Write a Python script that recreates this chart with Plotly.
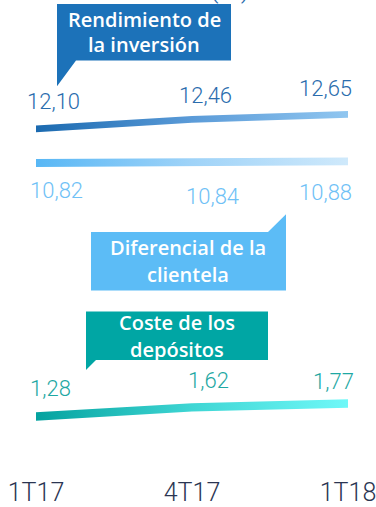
import plotly.graph_objects as go

# Quarterly periods and the three customer-spread series (%)
periods = ["1T17", "4T17", "1T18"]
rendimiento = [12.10, 12.46, 12.65]
diferencial = [10.82, 10.84, 10.88]
coste = [1.28, 1.62, 1.77]

W, H = 376, 507
MB = 28                      # bottom margin for the period labels
PH = H - MB                  # plot-area height in px

# vertical scale: px per percentage point and value at the top edge
PX_PER_UNIT = 26.8
Y_TOP = 454.3 / PX_PER_UNIT
Y_BOTTOM = Y_TOP - PH / PX_PER_UNIT


def px(x):
    return x / W


def py(y):
    return 1 - y / PH


series = [
    dict(name="Rendimiento de la inversión", values=rendimiento,
         grad=["#1b6ab0", "#5b9bd8", "#90c6f0"], text="#2a6cad",
         half=3.4, shifts=[(17, 27), (13, 24), (-23, 26)]),
    dict(name="Diferencial de la clientela", values=diferencial,
         grad=["#58b7f5", "#9fd3f8", "#cfe9fb"], text="#6fc1f6",
         half=4.0, shifts=[(20, -28), (20, -34), (-23, -31)]),
    dict(name="Coste de los depósitos", values=coste,
         grad=["#04a29f", "#3fd6d4", "#6ff8f8"], text="#1ea8a3",
         half=4.2, shifts=[(14, 28), (16, 27), (-15, 22)]),
]

fig = go.Figure()
annotations = []

for s in series:
    vals = s["values"]
    h = s["half"] / PX_PER_UNIT
    xs = periods + periods[::-1]
    ys = [v + h for v in vals] + [v - h for v in vals[::-1]]
    fig.add_trace(go.Scatter(
        x=xs, y=ys, mode="lines", fill="toself",
        line=dict(width=0), hoverinfo="skip", showlegend=False,
        fillgradient=dict(type="horizontal",
                          colorscale=[[0, s["grad"][0]], [0.5, s["grad"][1]],
                                      [1, s["grad"][2]]]),
        name=s["name"],
    ))
    for p, v, (dx, dy) in zip(periods, vals, s["shifts"]):
        annotations.append(dict(
            x=p, y=v, xref="x", yref="y", showarrow=False,
            text=f"{v:.2f}".replace(".", ","), xshift=dx, yshift=dy,
            font=dict(family="Roboto", size=22, color=s["text"], weight=300),
        ))

# callout boxes (pixel outlines converted to paper space)
callouts = [
    dict(color="#1c72b9", pts=[(57, 4), (231, 4), (231, 61), (76, 61), (57, 87)],
         lines=["Rendimiento de", "la inversión"], cx=144, cy=[20, 45]),
    dict(color="#5cbcf6", pts=[(91, 234), (268, 234), (286, 216), (286, 293), (91, 293)],
         lines=["Diferencial de la", "clientela"], cx=188, cy=[250, 277]),
    dict(color="#00a6a4", pts=[(86, 314), (268, 314), (268, 363), (96, 363), (86, 373)],
         lines=["Coste de los", "depósitos"], cx=177, cy=[325, 352]),
]

shapes = []
for c in callouts:
    path = "M " + " L ".join(f"{px(x):.5f},{py(y):.5f}" for x, y in c["pts"]) + " Z"
    shapes.append(dict(type="path", path=path, xref="paper", yref="paper",
                       fillcolor=c["color"], line=dict(width=0), layer="above"))
    for line, cy in zip(c["lines"], c["cy"]):
        annotations.append(dict(
            x=px(c["cx"]), y=py(cy), xref="paper", yref="paper",
            xanchor="center", yanchor="middle", showarrow=False, text=line,
            font=dict(family="Open Sans", size=20, color="white", weight=600),
        ))

# unit note sitting above the top edge
annotations.append(dict(
    x=px(230), y=py(6), xref="paper", yref="paper", xanchor="center",
    yanchor="bottom", showarrow=False, text="(%)",
    font=dict(family="Roboto", size=30, color="#2a6cad", weight=300),
))

fig.update_layout(
    width=W, height=H,
    margin=dict(l=0, r=0, t=0, b=MB),
    paper_bgcolor="white", plot_bgcolor="white",
    shapes=shapes, annotations=annotations,
    xaxis=dict(type="category", categoryorder="array", categoryarray=periods,
               range=[-36 / 156, (W - 36) / 156], showgrid=False,
               zeroline=False, showline=False, ticks="",
               tickfont=dict(family="Roboto", size=25, color="#2b3552", weight=300)),
    yaxis=dict(range=[Y_BOTTOM, Y_TOP], visible=False, showgrid=False),
)

fig.write_html("out.html")
